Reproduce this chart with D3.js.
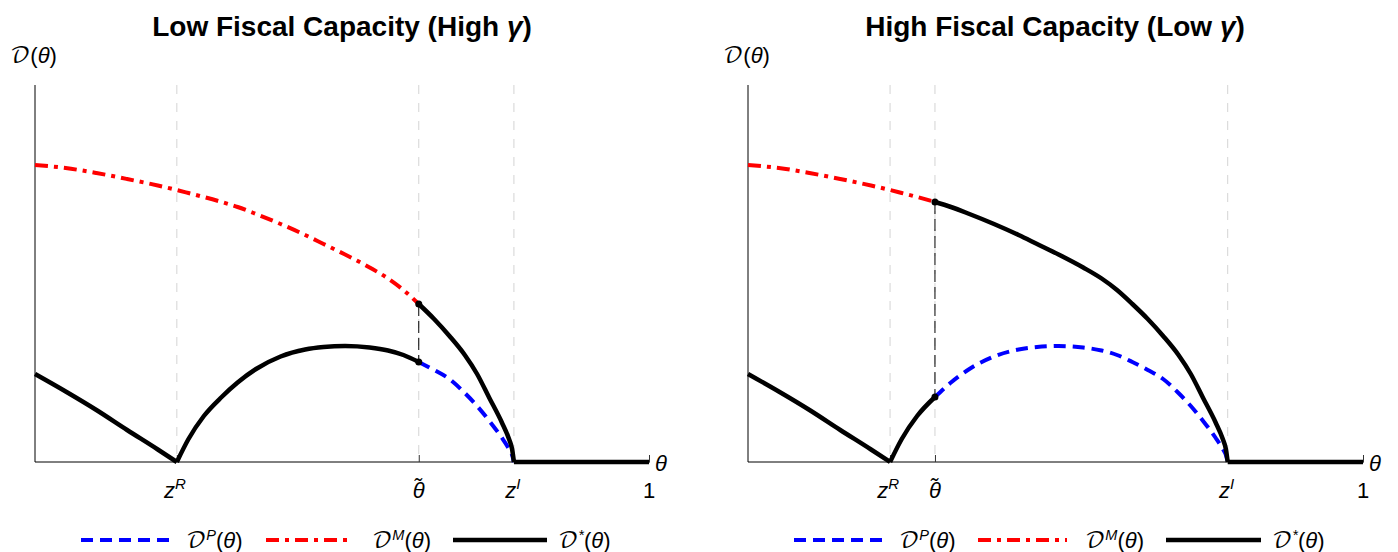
<!DOCTYPE html>
<html><head><meta charset="utf-8">
<script src="https://cdn.jsdelivr.net/npm/d3@7/dist/d3.min.js"></script>
<style>
body{margin:0;background:#fff;}
svg text{font-family:"Liberation Sans",Arial,sans-serif;}
.cal{font-family:"DejaVu Math TeX Gyre","DejaVu Serif","DejaVu Sans",serif;}
</style></head>
<body><svg id="c" width="1398" height="552"></svg>
<script>
// ---- data ----
const titles = ["Low Fiscal Capacity (High ", "High Fiscal Capacity (Low "];
const zR = 0.231, zI = 0.780;
const thetaTilde = [0.625, 0.304];
// D^M(θ) (mixed) – same curve in both panels
const thetaM = [0, 0.05, 0.10, 0.15, 0.20, 0.231, 0.25, 0.275, 0.304, 0.33, 0.36, 0.40, 0.44, 0.47, 0.505, 0.545, 0.575, 0.60, 0.625, 0.65, 0.675, 0.70, 0.72, 0.74, 0.76, 0.772, 0.777, 0.78];
const valM   = [2.97, 2.94, 2.89, 2.83, 2.765, 2.72, 2.69, 2.65, 2.60, 2.55, 2.48, 2.38, 2.27, 2.18, 2.075, 1.945, 1.835, 1.72, 1.58, 1.43, 1.26, 1.07, 0.88, 0.64, 0.40, 0.23, 0.13, 0];
// D^P(θ) (private)
const thetaP = [0, 0.05, 0.10, 0.15, 0.20, 0.231, 0.25, 0.275, 0.304, 0.33, 0.36, 0.40, 0.44, 0.47, 0.505, 0.545, 0.575, 0.60, 0.625, 0.65, 0.675, 0.70, 0.72, 0.74, 0.76, 0.772, 0.777, 0.78];
const valP   = [0.88, 0.705, 0.52, 0.32, 0.125, 0, 0.23, 0.46, 0.65, 0.795, 0.93, 1.055, 1.125, 1.15, 1.16, 1.145, 1.115, 1.07, 1.00, 0.92, 0.83, 0.69, 0.56, 0.41, 0.245, 0.13, 0.07, 0];
const flatTheta = [0.78, 1.0];
const flatVal = [0, 0];
const yMax = 3.77;

const svg = d3.select("#c");
const panels = [
  {x0:35, x1:649, tt:thetaTilde[0], title:titles[0], cx:342,
   leg:{b:[81,170], bl:186, r:[266,352], rl:372, k:[453,547], kl:558}},
  {x0:748, x1:1363, tt:thetaTilde[1], title:titles[1], cx:1055,
   leg:{b:[794,883], bl:899, r:[978,1067], rl:1085, k:[1166,1261], kl:1272}}
];

function pts(th, v){ return th.map((t,i)=>({t, v:v[i]})); }
const M = pts(thetaM, valM), P = pts(thetaP, valP), F = pts(flatTheta, flatVal);

function calLabel(g, x, y, sup, size){
  const t = g.append("text").attr("x",x).attr("y",y).attr("font-size",size).attr("fill","#000");
  t.append("tspan").attr("class","cal").text("\u{1D49F}");
  if (sup) t.append("tspan").attr("font-size",size*0.66).attr("font-style","italic").attr("dy",-size*0.38).text(sup);
  const a = t.append("tspan").text("(");
  if (sup) a.attr("dy", size*0.38);
  t.append("tspan").attr("font-style","italic").text("\u03B8");
  t.append("tspan").text(")");
  return t;
}

panels.forEach(p=>{
  const g = svg.append("g");
  const x = d3.scaleLinear().domain([0,1]).range([p.x0,p.x1]);
  const y = d3.scaleLinear().domain([0,yMax]).range([462,85]);
  const line = d3.line().x(d=>x(d.t)).y(d=>y(d.v)).curve(d3.curveMonotoneX);

  // title
  const tt = g.append("text").attr("x",p.cx).attr("y",36).attr("text-anchor","middle")
    .attr("font-size",28).attr("font-weight","bold");
  tt.append("tspan").text(p.title);
  tt.append("tspan").attr("font-style","italic").text("\u03B3");
  tt.append("tspan").text(")");

  // y label
  calLabel(g, p.x0-25, 63, null, 22);

  // grey reference lines
  [zR, p.tt, zI].forEach(v=>{
    g.append("line").attr("x1",x(v)).attr("x2",x(v)).attr("y1",y(yMax)).attr("y2",y(0))
      .attr("stroke","#d4d4d4").attr("stroke-width",1).attr("stroke-dasharray","9,9");
  });

  // axes
  const xa = d3.axisBottom(x).tickValues([zR,p.tt,zI,1]).tickSize(-7).tickFormat("");
  const ga = g.append("g").attr("transform",`translate(0,${y(0)})`).call(xa);
  ga.select(".domain").attr("stroke","#000").attr("d",`M${p.x0},0H${p.x1+1}`);
  ga.selectAll(".tick line").attr("stroke","#333");
  g.append("line").attr("x1",p.x0).attr("x2",p.x0).attr("y1",y(yMax)).attr("y2",y(0)).attr("stroke","#000");

  // tick labels
  const ty = 498, fs = 22;
  let t1 = g.append("text").attr("x",x(zR)-2).attr("y",ty).attr("text-anchor","middle").attr("font-size",fs);
  t1.append("tspan").attr("font-style","italic").text("z");
  t1.append("tspan").attr("font-style","italic").attr("font-size",15).attr("dy",-9).text("R");
  g.append("text").attr("x",x(p.tt)).attr("y",ty).attr("text-anchor","middle").attr("font-size",fs)
    .attr("font-style","italic").text("\u03B8\u0303");
  let t3 = g.append("text").attr("x",x(zI)-1).attr("y",ty).attr("text-anchor","middle").attr("font-size",fs);
  t3.append("tspan").attr("font-style","italic").text("z");
  t3.append("tspan").attr("font-style","italic").attr("font-size",15).attr("dy",-9).text("I");
  g.append("text").attr("x",x(1)).attr("y",ty).attr("text-anchor","middle").attr("font-size",fs).text("1");
  g.append("text").attr("x",x(1)+6).attr("y",471).attr("font-size",22).attr("font-style","italic").text("\u03B8");

  // black dashed connector at theta tilde
  const mT = M.find(d=>d.t===p.tt), pT = P.find(d=>d.t===p.tt);
  g.append("line").attr("x1",x(p.tt)).attr("x2",x(p.tt)).attr("y1",y(mT.v)).attr("y2",y(pT.v))
    .attr("stroke","#000").attr("stroke-width",1).attr("stroke-dasharray","12,5");

  // D^M dash-dot (θ <= θ̃)
  g.append("path").datum(M.filter(d=>d.t<=p.tt)).attr("d",line).attr("fill","none")
    .attr("stroke","#ff0000").attr("stroke-width",4).attr("stroke-dasharray","13,6,4,6");
  // D^P dashed (θ >= θ̃)
  g.append("path").datum(P.filter(d=>d.t>=p.tt)).attr("d",line).attr("fill","none")
    .attr("stroke","#0000ff").attr("stroke-width",4).attr("stroke-dasharray","12,7");
  // D* solid
  [P.filter(d=>d.t<=zR), P.filter(d=>d.t>=zR && d.t<=p.tt), M.filter(d=>d.t>=p.tt), F].forEach(seg=>{
    g.append("path").datum(seg).attr("d",line).attr("fill","none")
      .attr("stroke","#000").attr("stroke-width",4.5).attr("stroke-linejoin","round");
  });
  [mT,pT].forEach(d=>g.append("circle").attr("cx",x(d.t)).attr("cy",y(d.v)).attr("r",3.5).attr("fill","#000"));

  // legend
  const ly = 540, L = p.leg;
  g.append("line").attr("x1",L.b[0]).attr("x2",L.b[1]).attr("y1",ly).attr("y2",ly)
    .attr("stroke","#0000ff").attr("stroke-width",4).attr("stroke-dasharray","12,7");
  g.append("line").attr("x1",L.r[0]).attr("x2",L.r[1]).attr("y1",ly).attr("y2",ly)
    .attr("stroke","#ff0000").attr("stroke-width",4).attr("stroke-dasharray","13,6,4,6");
  g.append("line").attr("x1",L.k[0]).attr("x2",L.k[1]).attr("y1",ly).attr("y2",ly)
    .attr("stroke","#000").attr("stroke-width",4.5);
  calLabel(g, L.bl, ly+8, "P", 22);
  calLabel(g, L.rl, ly+8, "M", 22);
  calLabel(g, L.kl, ly+8, "*", 22);
});
</script></body></html>
